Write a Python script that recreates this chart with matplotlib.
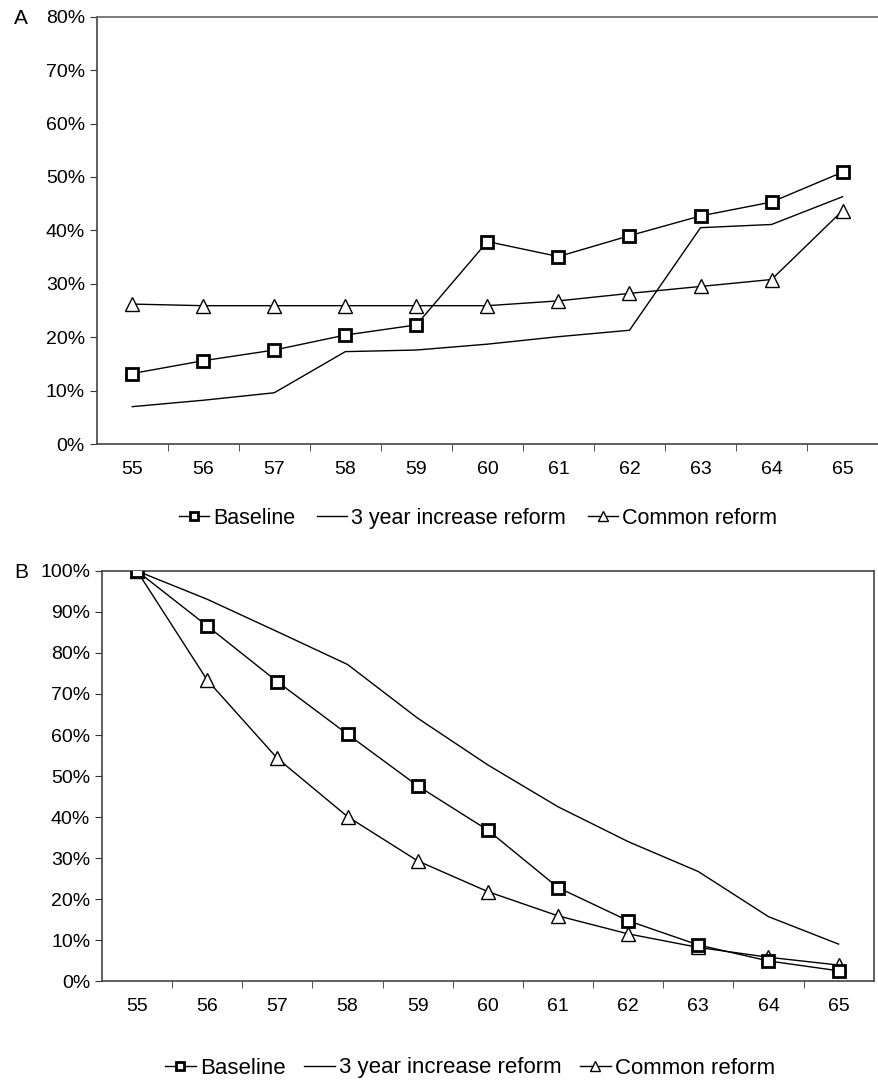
import matplotlib.pyplot as plt
from matplotlib.ticker import FixedLocator, PercentFormatter

ages = [55, 56, 57, 58, 59, 60, 61, 62, 63, 64, 65]

# Panel A
a_baseline = [13.2, 15.6, 17.6, 20.4, 22.3, 37.9, 35.1, 39.0, 42.7, 45.3, 50.9]
a_three_year = [7.0, 8.2, 9.6, 17.3, 17.6, 18.7, 20.1, 21.3, 40.5, 41.1, 46.3]
a_common = [26.2, 25.9, 25.9, 25.9, 25.9, 25.9, 26.8, 28.2, 29.5, 30.8, 43.7]

# Panel B
b_baseline = [100, 86.6, 73.0, 60.2, 47.6, 36.8, 22.8, 14.7, 8.8, 4.9, 2.5]
b_three_year = [100, 93.1, 85.2, 77.2, 64.1, 52.7, 42.5, 34.0, 26.7, 15.7, 9.0]
b_common = [100, 73.4, 54.3, 40.1, 29.3, 21.8, 15.9, 11.5, 8.2, 5.8, 3.9]

labels = ["Baseline", "3 year increase reform", "Common reform"]

plt.rcParams['font.family'] = ['Liberation Sans', 'DejaVu Sans']

fig = plt.figure(figsize=(8.79, 10.82), dpi=100)
ax_a = fig.add_axes([0.110, 0.5896, 0.889, 0.395])
ax_b = fig.add_axes([0.116, 0.0933, 0.878, 0.379])


def draw(ax, base, three, common):
    ax.plot(ages, base, color="black", lw=1.0, marker="s", ms=9, mfc="white",
            mec="black", mew=2.0, label=labels[0], zorder=3)
    ax.plot(ages, three, color="black", lw=1.0, label=labels[1], zorder=2)
    ax.plot(ages, common, color="black", lw=1.0, marker="^", ms=10, mfc="white",
            mec="black", mew=1.0, label=labels[2], zorder=2)
    ax.set_xlim(54.5, 65.5)
    ax.set_xticks(ages)
    ax.tick_params(axis="x", which="major", length=0, labelsize=14, pad=12)
    ax.xaxis.set_minor_locator(FixedLocator([a + 0.5 for a in ages[:-1]]))
    ax.tick_params(axis="x", which="minor", length=5, direction="out", color="#333333")
    ax.tick_params(axis="y", length=5, direction="out", labelsize=14, color="#333333")
    ax.yaxis.set_major_formatter(PercentFormatter(decimals=0))
    for s in ax.spines.values():
        s.set_color("#444444")
        s.set_linewidth(1.2)


draw(ax_a, a_baseline, a_three_year, a_common)
ax_a.set_ylim(0, 80)
ax_a.set_yticks(range(0, 81, 10))
ax_a.spines["right"].set_visible(False)
ax_a.spines["top"].set_color("#666666")
ax_a.legend(loc="center", bbox_to_anchor=(478 / 879, 1 - 518 / 1082),
            bbox_transform=fig.transFigure, ncol=3, frameon=False, fontsize=15.5,
            handlelength=1.4, handletextpad=0.2, columnspacing=1.0, markerscale=0.65)

draw(ax_b, b_baseline, b_three_year, b_common)
ax_b.set_ylim(0, 100)
ax_b.set_yticks(range(0, 101, 10))
ax_b.legend(loc="center", bbox_to_anchor=(470 / 879, 1 - 1068 / 1082),
            bbox_transform=fig.transFigure, ncol=3, frameon=False, fontsize=16,
            handlelength=1.4, handletextpad=0.2, columnspacing=0.8, markerscale=0.65)

fig.text(14 / 879, 1 - 18 / 1082, "A", fontsize=15, va="center", ha="left")
fig.text(14 / 879, 1 - 572 / 1082, "B", fontsize=15, va="center", ha="left")

fig.savefig("out.png", dpi=100)
